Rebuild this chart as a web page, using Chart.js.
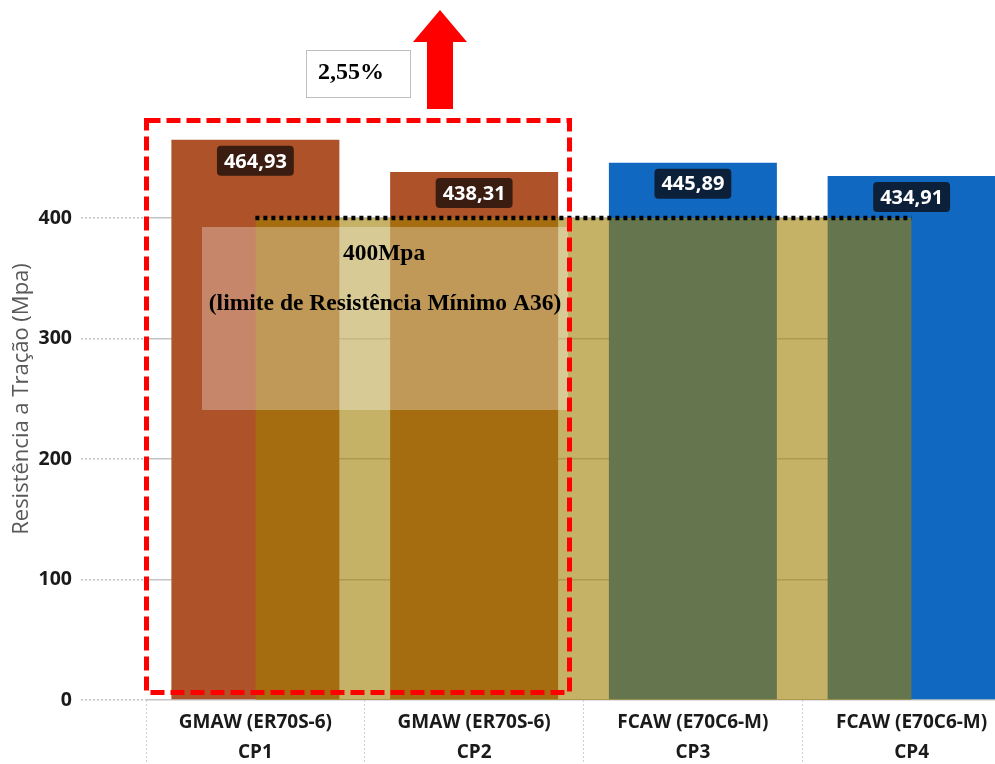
<!DOCTYPE html>
<html lang="pt">
<head>
<meta charset="utf-8">
<title>Resistência a Tração</title>
<script src="https://cdn.jsdelivr.net/npm/chart.js@4"></script>
<style>
  html, body { margin: 0; padding: 0; background: #fff; overflow: hidden; }
  #wrap { position: relative; width: 1021px; height: 764px; }
</style>
</head>
<body>
<div id="wrap"><canvas id="grafico"></canvas></div>
<script>
// Ensaio de tração: corpos de prova soldados por GMAW e FCAW
const categorias = [
  ["GMAW (ER70S-6)", "CP1"],
  ["GMAW (ER70S-6)", "CP2"],
  ["FCAW (E70C6-M)", "CP3"],
  ["FCAW (E70C6-M)", "CP4"]
];
const resistencia = [464.93, 438.31, 445.89, 434.91];
const limiteA36 = [400, 400, 400, 400];
const ticksY = [0, 100, 200, 300, 400];
const coresBarras = ["#AE5229", "#AE5229", "#1068C1", "#1068C1"];
const coresRotulo = ["#3A1D10", "#3A1D10", "#0C2139", "#0C2139"];
const aumento = "2,55%";
const textoLimite = ["400Mpa", "(limite de Resistência Mínimo A36)"];

const fmt = (v) => v.toFixed(2).replace(".", ",");

function roundRect(ctx, x, y, w, h, r) {
  ctx.beginPath();
  ctx.moveTo(x + r, y);
  ctx.lineTo(x + w - r, y);
  ctx.quadraticCurveTo(x + w, y, x + w, y + r);
  ctx.lineTo(x + w, y + h - r);
  ctx.quadraticCurveTo(x + w, y + h, x + w - r, y + h);
  ctx.lineTo(x + r, y + h);
  ctx.quadraticCurveTo(x, y + h, x, y + h - r);
  ctx.lineTo(x, y + r);
  ctx.quadraticCurveTo(x, y, x + r, y);
  ctx.closePath();
}

// rótulos de valor sobre cada barra + anotações (limite, destaque, seta)
const anotacoes = {
  id: "anotacoes",
  beforeDraw(chart) {
    const ctx = chart.ctx;
    ctx.save();
    ctx.translate(22, 399);
    ctx.rotate(-Math.PI / 2);
    ctx.font = "22px 'Open Sans'";
    ctx.fillStyle = "#595959";
    ctx.textAlign = "center";
    ctx.textBaseline = "middle";
    ctx.fillText("Resistência a Tração (Mpa)", 0, 0);
    ctx.restore();
  },
  afterDatasetsDraw(chart) {
    const ctx = chart.ctx;
    const meta = chart.getDatasetMeta(1);
    ctx.save();
    ctx.font = "bold 20px 'Open Sans'";
    ctx.textAlign = "center";
    ctx.textBaseline = "middle";
    meta.data.forEach((bar, i) => {
      const txt = fmt(resistencia[i]);
      const w = ctx.measureText(txt).width + 14;
      const cy = bar.y + 21;
      ctx.fillStyle = coresRotulo[i];
      roundRect(ctx, bar.x - w / 2, cy - 15, w, 30, 4);
      ctx.fill();
      ctx.fillStyle = "#ffffff";
      ctx.fillText(txt, bar.x, cy + 1);
    });

    // caixa translúcida com o texto do limite
    ctx.fillStyle = "rgba(255,255,255,0.3)";
    ctx.fillRect(202, 227, 366, 183);
    ctx.fillStyle = "#000000";
    ctx.font = "bold 23.5px 'Liberation Serif'";
    ctx.fillText(textoLimite[0], 384, 254);
    ctx.fillText(textoLimite[1], 385, 304);

    // destaque tracejado em CP1 e CP2
    ctx.strokeStyle = "#FF0000";
    ctx.lineWidth = 5;
    ctx.setLineDash([14, 6]);
    ctx.strokeRect(146.5, 120.5, 423, 572);
    ctx.setLineDash([]);

    // seta para cima
    ctx.fillStyle = "#FF0000";
    ctx.beginPath();
    ctx.moveTo(427, 109);
    ctx.lineTo(427, 42);
    ctx.lineTo(413, 42);
    ctx.lineTo(440, 10);
    ctx.lineTo(467, 42);
    ctx.lineTo(453, 42);
    ctx.lineTo(453, 109);
    ctx.closePath();
    ctx.fill();

    // caixa com o aumento percentual
    ctx.fillStyle = "#ffffff";
    ctx.fillRect(306, 50, 104, 47);
    ctx.strokeStyle = "#BFBFBF";
    ctx.lineWidth = 1;
    ctx.strokeRect(306.5, 50.5, 104, 47);
    ctx.fillStyle = "#000000";
    ctx.font = "bold 24px 'Liberation Serif'";
    ctx.textAlign = "left";
    ctx.fillText(aumento, 318, 73);
    ctx.restore();
  }
};

new Chart(document.getElementById("grafico"), {
  type: "bar",
  data: {
    labels: categorias,
    datasets: [
      {
        type: "line",
        label: "Limite A36",
        data: limiteA36,
        order: 0,
        borderColor: "#000000",
        borderWidth: 4.5,
        borderDash: [4, 4],
        borderCapStyle: "butt",
        pointRadius: 0,
        fill: "origin",
        backgroundColor: "rgba(158,126,0,0.6)",
        tension: 0
      },
      {
        label: "Resistência",
        data: resistencia,
        order: 1,
        backgroundColor: coresBarras,
        borderWidth: 0,
        categoryPercentage: 1,
        barPercentage: 0.768
      }
    ]
  },
  options: {
    responsive: true,
    maintainAspectRatio: false,
    animation: false,
    layout: { padding: 0 },
    plugins: { legend: { display: false }, tooltip: { enabled: false } },
    scales: {
      x: {
        afterFit: (s) => { s.height = 64; s.paddingLeft = 0; s.paddingRight = 0; },
        border: { display: false },
        grid: {
          drawOnChartArea: false,
          drawTicks: true,
          tickLength: 64,
          tickColor: "#D0D0D0",
          tickWidth: 1,
          tickBorderDash: [2, 2]
        },
        ticks: {
          padding: -56,
          color: "#1A1A1A",
          font: { family: "'Open Sans'", size: 19, weight: "bold", lineHeight: 30 / 19 },
          maxRotation: 0
        }
      },
      y: {
        min: 0,
        max: 581,
        afterFit: (s) => { s.width = 146; s.paddingTop = 0; s.paddingBottom = 0; },
        afterBuildTicks: (s) => { s.ticks = ticksY.map(v => ({ value: v })); },
        border: { display: false },
        grid: {
          color: "#C4C4C4",
          lineWidth: 1.5,
          borderDash: [2, 2],
          tickLength: 65,
          tickColor: "#C4C4C4",
          tickWidth: 1.5,
          tickBorderDash: [2, 2]
        },
        ticks: {
          padding: 9,
          color: "#1A1A1A",
          font: { family: "'Open Sans'", size: 19.5, weight: "bold" }
        }
      }
    }
  },
  plugins: [anotacoes]
});
</script>
</body>
</html>
